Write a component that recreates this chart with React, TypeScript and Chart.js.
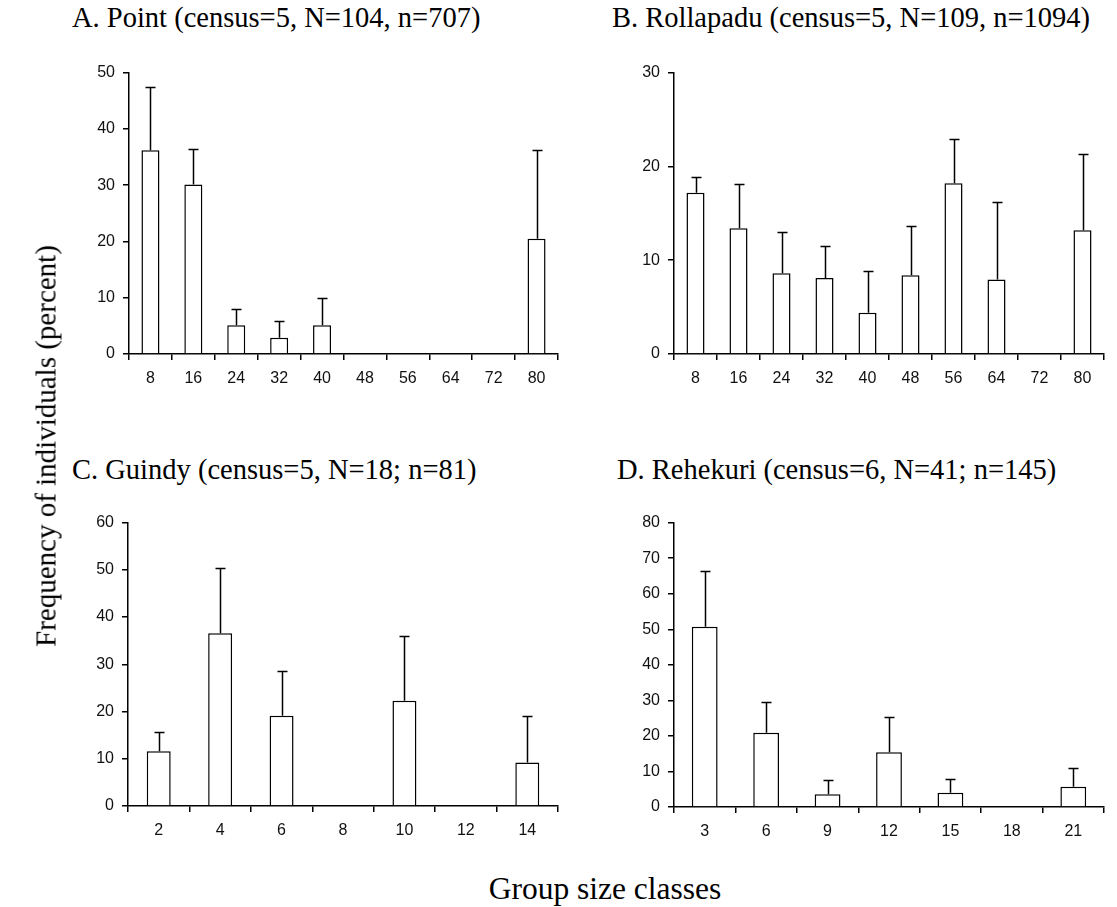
import React, { useEffect, useRef } from "react";
import { Chart, registerables } from "chart.js";

Chart.register(...registerables);

// ---------- data ----------
const titleA = "A. Point (census=5, N=104, n=707)";
const catsA = ["8", "16", "24", "32", "40", "48", "56", "64", "72", "80"];
const valsA = [36.2, 30.1, 5.1, 2.9, 5.1, 0, 0, 0, 0, 20.5];
const errA = [11.3, 6.4, 2.9, 2.9, 4.8, 0, 0, 0, 0, 15.7];
const yTicksA = { max: 50, step: 10 };

const titleB = "B. Rollapadu (census=5, N=109, n=1094)";
const catsB = ["8", "16", "24", "32", "40", "48", "56", "64", "72", "80"];
const valsB = [17.2, 13.4, 8.6, 8.1, 4.4, 8.4, 18.2, 7.95, 0, 13.2];
const errB = [1.7, 4.7, 4.4, 3.4, 4.4, 5.2, 4.7, 8.25, 0, 8.1];
const yTicksB = { max: 30, step: 10 };

const titleC = "C. Guindy (census=5, N=18; n=81)";
const catsC = ["2", "4", "6", "8", "10", "12", "14"];
const valsC = [11.6, 36.6, 19.1, 0, 22.3, 0, 9.2];
const errC = [4.1, 13.8, 9.4, 0, 13.7, 0, 9.9];
const yTicksC = { max: 60, step: 10 };

const titleD = "D. Rehekuri (census=6, N=41; n=145)";
const catsD = ["3", "6", "9", "12", "15", "18", "21"];
const valsD = [50.7, 20.9, 3.6, 15.4, 4.0, 0, 5.7];
const errD = [15.8, 8.7, 4.0, 9.8, 4.0, 0, 5.4];
const yTicksD = { max: 80, step: 10 };

const yAxisTitle = "Frequency of individuals (percent)";
const xAxisTitle = "Group size classes";

// ---------- helpers ----------
const SERIF = '"Liberation Serif", "Times New Roman", Times, serif';
const SANS = '"Liberation Sans", Arial, Helvetica, sans-serif';

const errorBarPlugin = {
  id: "errbars",
  afterDatasetsDraw(chart: any, _args: any, opts: any) {
    const errs: number[] = opts.errors || [];
    const meta = chart.getDatasetMeta(0);
    const ys = chart.scales.y;
    const data = chart.data.datasets[0].data as number[];
    const ctx = chart.ctx;
    ctx.save();
    ctx.strokeStyle = "#000";
    ctx.lineWidth = 1.5;
    meta.data.forEach((bar: any, i: number) => {
      const e = errs[i];
      if (!e) return;
      const v = data[i];
      const x = Math.round(bar.x) + 0.5;
      const y0 = ys.getPixelForValue(v);
      const y1 = Math.round(ys.getPixelForValue(v + e)) + 0.5;
      ctx.beginPath();
      ctx.moveTo(x, y0);
      ctx.lineTo(x, y1);
      ctx.moveTo(x - 5, y1);
      ctx.lineTo(x + 5, y1);
      ctx.stroke();
    });
    ctx.restore();
  },
};

type PanelProps = {
  cats: string[];
  vals: number[];
  errs: number[];
  yMax: number;
  yStep: number;
  left: number;
  top: number;
  width: number;
  height: number;
  yWidth: number;
  xHeight: number;
  padTop: number;
  padRight: number;
  barPct: number;
};

function Panel(p: PanelProps) {
  const ref = useRef<HTMLCanvasElement | null>(null);
  useEffect(() => {
    if (!ref.current) return;
    const chart = new Chart(ref.current, {
      type: "bar",
      data: {
        labels: p.cats,
        datasets: [
          {
            data: p.vals,
            backgroundColor: "#ffffff",
            borderColor: "#000000",
            borderWidth: 1.5,
            categoryPercentage: 1,
            barPercentage: p.barPct,
          },
        ],
      },
      options: {
        responsive: false,
        animation: false,
        devicePixelRatio: 1,
        layout: { padding: { top: p.padTop, right: p.padRight, left: 0, bottom: 0 } },
        plugins: {
          legend: { display: false },
          tooltip: { enabled: false },
          title: { display: false },
          errbars: { errors: p.errs },
        } as any,
        scales: {
          x: {
            type: "category",
            offset: true,
            grid: {
              offset: true,
              drawOnChartArea: false,
              drawTicks: true,
              tickLength: 6,
              color: "#000",
              lineWidth: 1.5,
            },
            border: { display: true, color: "#000", width: 1.5 },
            ticks: {
              font: { family: SANS, size: 16 },
              color: "#111",
              padding: 9,
              maxRotation: 0,
              autoSkip: false,
            },
            afterFit: (s: any) => {
              s.height = p.xHeight;
            },
          },
          y: {
            min: 0,
            max: p.yMax,
            grid: {
              drawOnChartArea: false,
              drawTicks: true,
              tickLength: 6,
              color: "#000",
              lineWidth: 1.5,
            },
            border: { display: true, color: "#000", width: 1.5 },
            ticks: {
              stepSize: p.yStep,
              font: { family: SANS, size: 16 },
              color: "#111",
              padding: 8,
            },
            afterFit: (s: any) => {
              s.width = p.yWidth;
            },
          },
        },
      },
      plugins: [errorBarPlugin as any],
    });
    return () => chart.destroy();
  }, []);
  return (
    <canvas
      ref={ref}
      width={p.width}
      height={p.height}
      style={{
        position: "absolute",
        left: p.left,
        top: p.top,
        width: p.width,
        height: p.height,
      }}
    />
  );
}

const titleStyle = (left: number, top: number): React.CSSProperties => ({
  position: "absolute",
  left,
  top,
  fontFamily: SERIF,
  fontSize: 28.5,
  lineHeight: "28px",
  whiteSpace: "nowrap",
  color: "#000",
});

export default function App() {
  return (
    <div
      style={{
        position: "absolute",
        left: 0,
        top: 0,
        width: 1117,
        height: 907,
        background: "#fff",
        overflow: "hidden",
      }}
    >
      <div style={titleStyle(72, 4)}>{titleA}</div>
      <div style={titleStyle(612, 4)}>{titleB}</div>
      <div style={titleStyle(72, 456)}>{titleC}</div>
      <div style={titleStyle(617, 456)}>{titleD}</div>

      <Panel
        cats={catsA}
        vals={valsA}
        errs={errA}
        yMax={yTicksA.max}
        yStep={yTicksA.step}
        left={60}
        top={55}
        width={510}
        height={355}
        yWidth={69}
        xHeight={56}
        padTop={15}
        padRight={12}
        barPct={0.42}
      />
      <Panel
        cats={catsB}
        vals={valsB}
        errs={errB}
        yMax={yTicksB.max}
        yStep={yTicksB.step}
        left={600}
        top={55}
        width={515}
        height={355}
        yWidth={74}
        xHeight={56}
        padTop={15}
        padRight={11}
        barPct={0.42}
      />
      <Panel
        cats={catsC}
        vals={valsC}
        errs={errC}
        yMax={yTicksC.max}
        yStep={yTicksC.step}
        left={60}
        top={505}
        width={510}
        height={355}
        yWidth={68}
        xHeight={54}
        padTop={16}
        padRight={12}
        barPct={0.39}
      />
      <Panel
        cats={catsD}
        vals={valsD}
        errs={errD}
        yMax={yTicksD.max}
        yStep={yTicksD.step}
        left={600}
        top={505}
        width={515}
        height={355}
        yWidth={74}
        xHeight={53}
        padTop={16}
        padRight={11}
        barPct={0.42}
      />

      <div
        style={{
          position: "absolute",
          left: 46,
          top: 446,
          transform: "translate(-50%, -50%) rotate(-90deg)",
          fontFamily: SERIF,
          fontSize: 29,
          lineHeight: "29px",
          whiteSpace: "nowrap",
          color: "#000",
        }}
      >
        {yAxisTitle}
      </div>
      <div
        style={{
          position: "absolute",
          left: 605,
          top: 873,
          transform: "translateX(-50%)",
          fontFamily: SERIF,
          fontSize: 31.5,
          lineHeight: "31px",
          whiteSpace: "nowrap",
          color: "#000",
        }}
      >
        {xAxisTitle}
      </div>
    </div>
  );
}
